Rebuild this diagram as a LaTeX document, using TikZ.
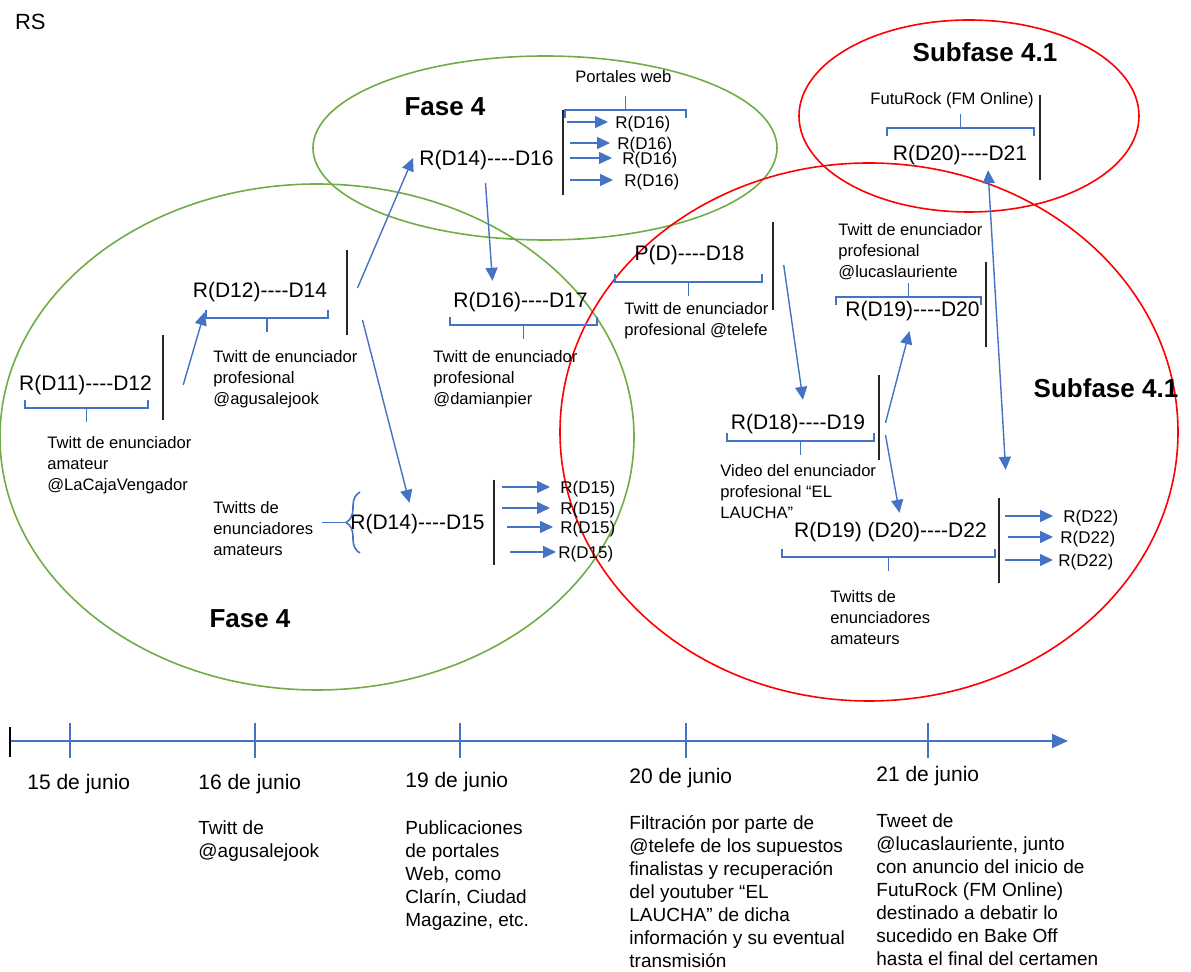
\documentclass[tikz,border=0pt]{standalone}
\usepackage{fontspec}
\setmainfont{Liberation Sans}
\usetikzlibrary{arrows.meta,calc,decorations.pathreplacing}
\definecolor{azul}{RGB}{68,114,196}
\definecolor{verde}{RGB}{112,173,71}
\definecolor{rojo}{RGB}{255,0,0}
\newcommand\rayas{-{}-{}-{}-}
\tikzset{
  hito/.style={font=\fontsize{10.5}{12}\selectfont, inner sep=1pt},
  nota/.style={font=\fontsize{8.3}{10.5}\selectfont, align=left, inner sep=0pt, anchor=north west},
  rama/.style={font=\fontsize{8.5}{10}\selectfont, inner sep=0pt, anchor=west},
  fase/.style={font=\fontsize{13}{15}\selectfont\bfseries},
  flecha/.style={azul, line width=0.7pt, -{Triangle[length=6.5pt,width=6pt]}},
  barra/.style={black!85, line width=0.8pt},
  llave/.style={azul, line width=0.8pt},
  zona/.style={line width=0.8pt},
  fecha/.style={font=\fontsize{10.5}{12}\selectfont, inner sep=0pt, anchor=base west},
  texto/.style={font=\fontsize{9.5}{11.5}\selectfont, align=left, inner sep=0pt, anchor=north west},
}

\begin{document}
\begin{tikzpicture}[x=0.5pt, y=-0.5pt]
\useasboundingbox (0,0) rectangle (1191,972);

% zonas
\draw[zona, verde] (317,437) ellipse [x radius=317, y radius=253];
\draw[zona, verde] (545,148) ellipse [x radius=232, y radius=92];
\draw[zona, rojo] (969,116) ellipse [x radius=170, y radius=96];
\draw[zona, rojo] (869,432) ellipse [x radius=309, y radius=269];

\node[anchor=west, font=\fontsize{11}{13}\selectfont] (rs) at (8,22) {RS};
\node[fase] (f4a) at (445,107) {Fase 4};
\node[fase] (f4b) at (250,619) {Fase 4};
\node[fase] (s41a) at (985,52) {Subfase 4.1};
\node[fase] (s41b) at (1106,388) {Subfase 4.1};

% hitos
\node[hito] (d11) at (85.5,385) {R(D11)\rayas D12};
\node[hito] (d12) at (260,292) {R(D12)\rayas D14};
\node[hito] (d16) at (486.5,160) {R(D14)\rayas D16};
\node[hito] (d17) at (520.5,302) {R(D16)\rayas D17};
\node[hito] (d15) at (417.5,524) {R(D14)\rayas D15};
\node[hito] (d18) at (689.5,255) {P(D)\rayas D18};
\node[hito] (d19) at (798,424) {R(D18)\rayas D19};
\node[hito] (d20) at (912.5,311) {R(D19)\rayas D20};
\node[hito] (d22) at (890.5,532) {R(D19) (D20)\rayas D22};
\node[hito] (d21) at (960,155) {R(D20)\rayas D21};

% notas
\node[nota] (n11) at (47,436) {Twitt de enunciador\\amateur\\@LaCajaVengador};
\node[nota] (n12) at (213,350) {Twitt de enunciador\\profesional\\@agusalejook};
\node[nota] (n17) at (433,350) {Twitt de enunciador\\profesional\\@damianpier};
\node[nota] (n15) at (213,501) {Twitts de\\enunciadores\\amateurs};
\node[nota] (n18) at (624,302) {Twitt de enunciador\\profesional @telefe};
\node[nota] (n19) at (720,464) {Video del enunciador\\profesional “EL\\LAUCHA”};
\node[nota] (n20) at (838,223) {Twitt de enunciador\\profesional\\@lucaslauriente};
\node[nota] (n22) at (830,590) {Twitts de\\enunciadores\\amateurs};
\node[nota] (n16) at (575,70) {Portales web};
\node[nota] (n21) at (870,92) {FutuRock (FM Online)};

% llaves
\foreach \xa/\xb/\y/\d in {25/148/408/1, 206/328/318/1, 450/597/325/1, 615/762/282/1,
    727/874/441/1, 782/995/557/1, 836/981/297/-1, 887/1034/128/-1, 565/686/110/-1}
  \draw[llave] (\xa,{\y-8*(\d)}) -- (\xa,\y) -- (\xb,\y) -- (\xb,{\y-8*(\d)})
    ({(\xa+\xb)/2},\y) -- ++(0,{14*(\d)});
\draw[llave, decorate, decoration={brace, amplitude=7pt}] (360,553) -- (360,492);
\draw[llave] (346,522.5) -- (322,522.5);

% barras
\foreach \x/\ya/\yb in {163/335/420, 347/250/335, 563/110/195, 494/480/565, 773/222/310,
    879/375/460, 986/262/347, 999/498/583, 1040/95/180}
  \draw[barra] (\x,\ya) -- (\x,\yb);

% flechas
\draw[flecha] ($(d11.east)+(29,0)$) -- ($(d12.south west)+(14,8)$);
\draw[flecha] ($(d12.east)+(28,-4)$) -- ($(d16.west)+(-4,-2)$);
\draw[flecha] ($(d12.east)+(33,28)$) -- ($(d15.north)+(-8,-9)$);
\draw[flecha] ($(d16.south)+(-1,11)$) -- ($(d17.north)+(-28,-9)$);
\draw[flecha] ($(d18.east)+(37,10)$) -- ($(d19.north)+(5,-12)$);
\draw[flecha] ($(d19.east)+(18,-1)$) -- ($(d20.south)+(-3,8)$);
\draw[flecha] ($(d19.east)+(18,11)$) -- ($(d22.north)+(9,-7)$);
\draw[flecha, {Triangle[length=6.5pt,width=6pt]}-{Triangle[length=6.5pt,width=6pt]}]
  ($(d21.south)+(28,3)$) -- ($(d22.north east)+(16.5,-50)$);

\foreach \y/\xa/\xb/\xl [count=\i] in {122/567/608/615, 143/570/610/617, 158/570/612/622, 180/570/613/624}{
  \node[rama] (r16-\i) at (\xl,{\y+2}) {R(D16)};
  \draw[flecha] (\xa,\y) -- (\xb,\y);
}
\foreach \y/\xa/\xb/\xl [count=\i] in {487/502/550/560, 508/502/550/560, 527/507/553/560, 552/510/556/558}{
  \node[rama] (r15-\i) at (\xl,{\y+2}) {R(D15)};
  \draw[flecha] (\xa,\y) -- (\xb,\y);
}
\foreach \y/\xa/\xb/\xl [count=\i] in {516/1005/1053/1063, 537/1008/1053/1060, 560/1005/1053/1058}{
  \node[rama] (r22-\i) at (\xl,{\y+2}) {R(D22)};
  \draw[flecha] (\xa,\y) -- (\xb,\y);
}

% linea de tiempo
\coordinate (t0) at (10,741);
\coordinate (t1) at (1068,741);
\draw[azul, line width=1pt, -{Triangle[length=8pt,width=7pt]}] (t0) -- (t1);
\draw[black, line width=0.7pt] (10,727) -- (10,757);
\foreach \x in {70,255,460,686,928}
  \draw[azul, line width=0.7pt] (\x,723) -- (\x,758);

\foreach \x/\y/\t [count=\i] in {27/790/15, 198/790/16, 405/788/19, 629/784/20, 876/782/21}
  \node[fecha] (dia\i) at (\x,\y) {\t\ de junio};

\node[texto] (e16) at (198,820) {Twitt de\\@agusalejook};
\node[texto] (e19) at (405,820) {Publicaciones\\de portales\\Web, como\\Clarín, Ciudad\\Magazine, etc.};
\node[texto] (e20) at (629,815) {Filtración por parte de\\@telefe de los supuestos\\finalistas y recuperación\\del youtuber “EL\\LAUCHA” de dicha\\información y su eventual\\transmisión};
\node[texto] (e21) at (876,813) {Tweet de\\@lucaslauriente, junto\\con anuncio del inicio de\\FutuRock (FM Online)\\destinado a debatir lo\\sucedido en Bake Off\\hasta el final del certamen};

\end{tikzpicture}
\end{document}
